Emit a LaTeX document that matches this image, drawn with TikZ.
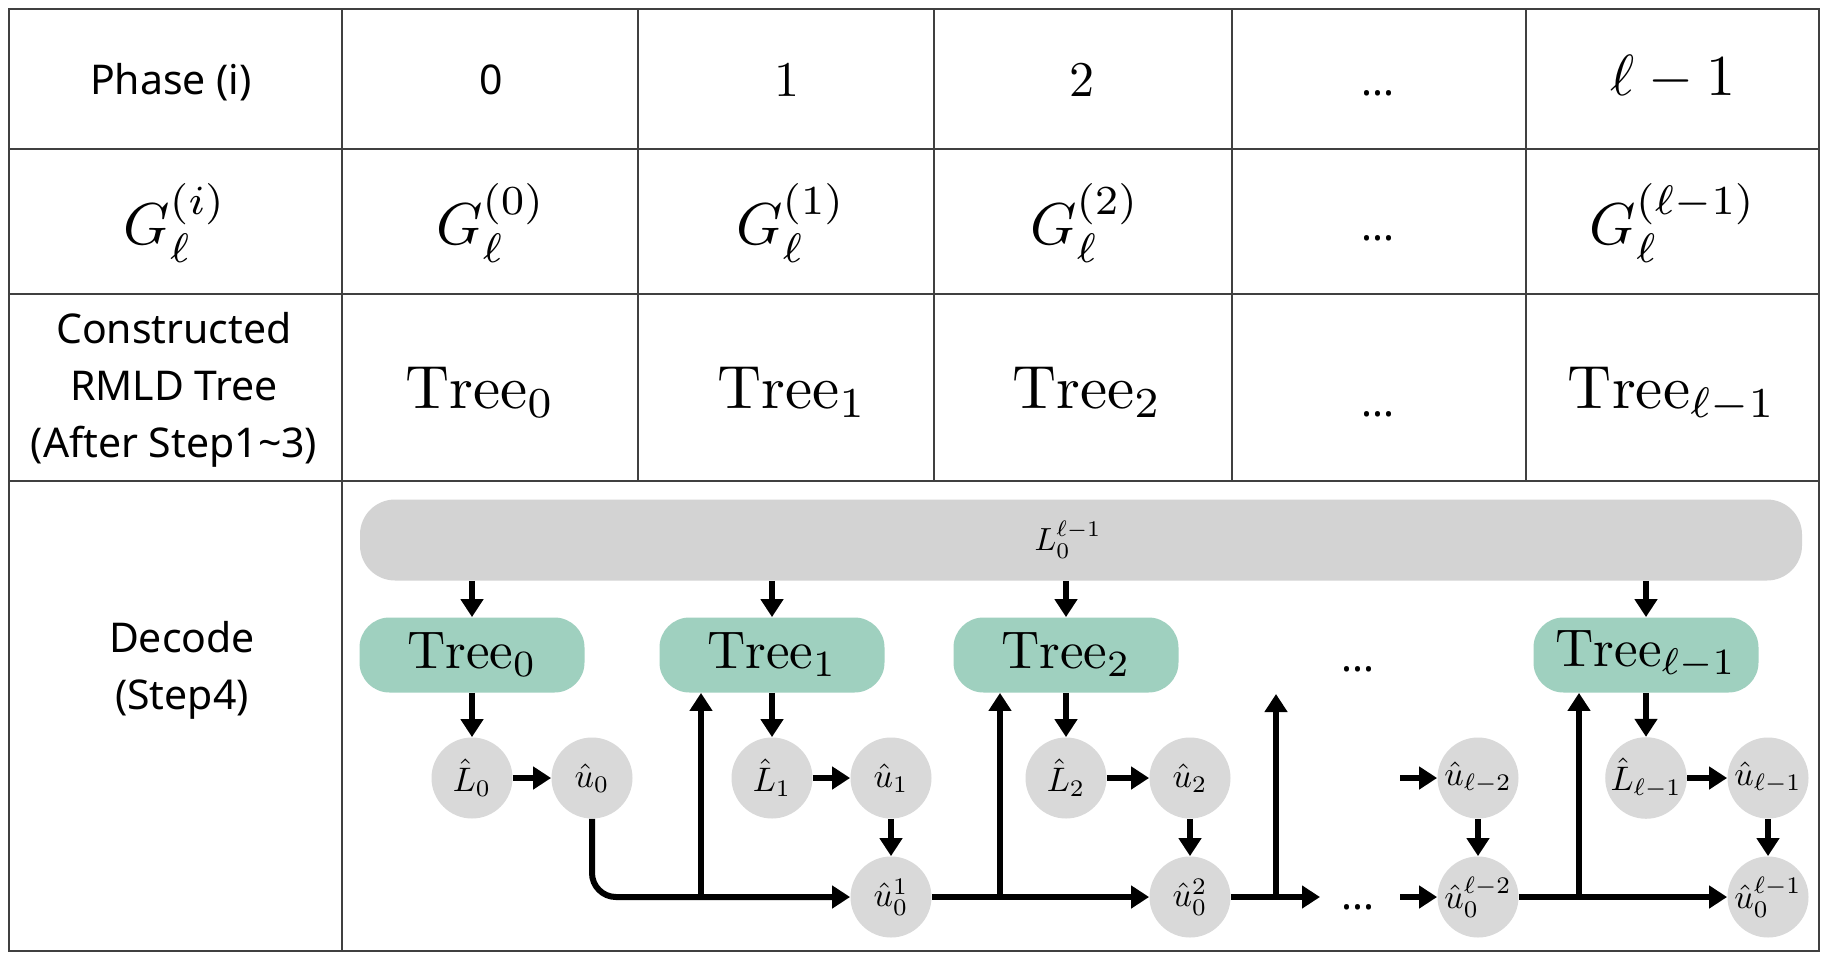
\RequirePackage{fix-cm}
\documentclass[tikz,border=0pt]{standalone}
\usepackage{fontspec}
\newfontfamily\sfont{Noto Sans}
\usetikzlibrary{arrows.meta}
\definecolor{treegreen}{HTML}{9FD0BF}
\definecolor{bargray}{HTML}{D3D3D3}
\definecolor{nodegray}{HTML}{D9D9D9}
\definecolor{gridc}{HTML}{404040}
\newcommand\mys[2]{\scalebox{#1}{$#2$}}
\begin{document}
\begin{tikzpicture}[x=0.5pt,y=-0.5pt,
  grid/.style={draw=gridc, line width=1pt},
  lab/.style={font=\sfont\fontsize{20.5}{28.5}\selectfont, align=center, inner sep=0pt},
  mth/.style={inner sep=0pt, font=\fontsize{10}{12}\selectfont},
  treecell/.style={mth, anchor=base},
  treebox/.style={fill=treegreen, rounded corners=15pt, minimum width=112.5pt, minimum height=37.5pt, inner sep=0pt, font=\fontsize{10}{12}\selectfont},
  est/.style={circle, fill=nodegray, minimum size=40.5pt, inner sep=0pt, font=\fontsize{10}{12}\selectfont},
  arr/.style={line width=3pt, -{Triangle[length=9pt,width=11pt]}}
]
\useasboundingbox (0,0) rectangle (1828,960);
\fill[white] (0,0) rectangle (1828,960);
% table grid
\draw[grid] (9,9) rectangle (1819,951);
\draw[grid] (9,149) -- (1819,149);
\draw[grid] (9,294) -- (1819,294);
\draw[grid] (9,481) -- (1819,481);
\draw[grid] (342,9) -- (342,951);
\foreach \xx in {638,934,1232,1526} \draw[grid] (\xx,9) -- (\xx,481);
% row 1
\node[lab] (h0) at (171,82) {Phase (i)};
\node[lab] (h1) at (491,80) {0};
\node[mth] (h2) at (787,80) {\mys{2.5}{1}};
\node[mth] (h3) at (1082,80) {\mys{2.5}{2}};
\node[lab] (h4) at (1378,93) {...};
\node[mth] (h5) at (1673,78) {\mys{2.9}{\ell-1}};
% row 2
\node[mth] (g0) at (175,223) {\mys{2.95}{G_\ell^{(i)}}};
\node[mth] (g1) at (491,223) {\mys{2.95}{G_\ell^{(0)}}};
\node[mth] (g2) at (791,223) {\mys{2.95}{G_\ell^{(1)}}};
\node[mth] (g3) at (1085,223) {\mys{2.95}{G_\ell^{(2)}}};
\node[lab] (g4) at (1378,238) {...};
\node[mth] (g5) at (1673,223) {\mys{2.95}{G_\ell^{(\ell-1)}}};
% row 3
\node[lab] (r0) at (174,390) {Constructed\\RMLD Tree\\(After Step1\textasciitilde 3)};
\node[treecell] (r1) at (480,408) {\mys{3.05}{\mathrm{Tree}_0}};
\node[treecell] (r2) at (792,408) {\mys{3.05}{\mathrm{Tree}_1}};
\node[treecell] (r3) at (1087,408) {\mys{3.05}{\mathrm{Tree}_2}};
\node[lab] (r4) at (1378,414) {...};
\node[treecell] (r5) at (1672,408) {\mys{3.05}{\mathrm{Tree}_{\ell-1}}};
% row 4
\node[lab] (dc) at (182,670) {Decode\\(Step4)};
\node[fill=bargray, rounded corners=17.5pt, minimum width=721pt, minimum height=40.5pt, inner sep=0pt] (bar) at (1081,540) {};
\node[mth] (barlbl) at (1068,540) {\mys{1.6}{L_0^{\ell-1}}};
\node[treebox] (t0) at (472,655) {\raisebox{-3pt}{\mys{2.65}{\mathrm{Tree}_0}}};
\node[treebox] (t1) at (772,655) {\raisebox{-3pt}{\mys{2.65}{\mathrm{Tree}_1}}};
\node[treebox] (t2) at (1066,655) {\raisebox{-3pt}{\mys{2.65}{\mathrm{Tree}_2}}};
\node[treebox] (tl) at (1646,655) {\raisebox{-3pt}{\mys{2.65}{\mathrm{Tree}_{\ell-1}}}};
\node[est] (L0) at (472,778) {\mys{1.7}{\hat{L}_0}};
\node[est] (u0) at (592,778) {\mys{1.7}{\hat{u}_0}};
\node[est] (L1) at (772,778) {\mys{1.7}{\hat{L}_1}};
\node[est] (u1) at (891,778) {\mys{1.7}{\hat{u}_1}};
\node[est] (u01) at (891,897) {\mys{1.7}{\hat{u}_0^1}};
\node[est] (L2) at (1066,778) {\mys{1.7}{\hat{L}_2}};
\node[est] (u2) at (1190,778) {\mys{1.7}{\hat{u}_2}};
\node[est] (u02) at (1190,897) {\mys{1.7}{\hat{u}_0^2}};
\node[est] (ul2) at (1478,778) {\mys{1.7}{\hat{u}_{\ell-2}}};
\node[est] (u0l2) at (1478,897) {\mys{1.7}{\hat{u}_0^{\ell-2}}};
\node[est] (LL) at (1646,778) {\mys{1.7}{\hat{L}_{\ell-1}}};
\node[est] (uL) at (1768,778) {\mys{1.7}{\hat{u}_{\ell-1}}};
\node[est] (u0L) at (1768,897) {\mys{1.7}{\hat{u}_0^{\ell-1}}};
\node[lab] (d1) at (1358,669) {...};
\node[lab] (d2) at (1358,907) {...};
\coordinate (j1) at (701,897);
\coordinate (j2) at (1000,897);
\coordinate (j3) at (1276,897);
\coordinate (up3) at (1276,694);
\coordinate (e1) at (1320,897);
\coordinate (s1) at (1400,778);
\coordinate (s2) at (1400,897);
\coordinate (j4) at (1579,897);
% arrows
\foreach \t in {t0,t1,t2,tl} \draw[arr] (bar.south -| \t) -- (\t);
\draw[arr] (t0) -- (L0);
\draw[arr] (L0) -- (u0);
\draw[arr] (t1) -- (L1);
\draw[arr] (L1) -- (u1);
\draw[arr] (u1) -- (u01);
\draw[arr] (t2) -- (L2);
\draw[arr] (L2) -- (u2);
\draw[arr] (u2) -- (u02);
\draw[arr] (tl) -- (LL);
\draw[arr] (LL) -- (uL);
\draw[arr] (uL) -- (u0L);
\draw[arr] (ul2) -- (u0l2);
\draw[arr, rounded corners=12pt] (u0) |- (u01);
\draw[arr] (j1) -- (j1 |- t1.south);
\draw[arr] (u01) -- (u02);
\draw[arr] (j2) -- (j2 |- t2.south);
\draw[arr] (u02) -- (e1);
\draw[arr] (j3) -- (up3);
\draw[arr] (s1) -- (ul2);
\draw[arr] (s2) -- (u0l2);
\draw[arr] (u0l2) -- (u0L);
\draw[arr] (j4) -- (j4 |- tl.south);
\end{tikzpicture}
\end{document}
